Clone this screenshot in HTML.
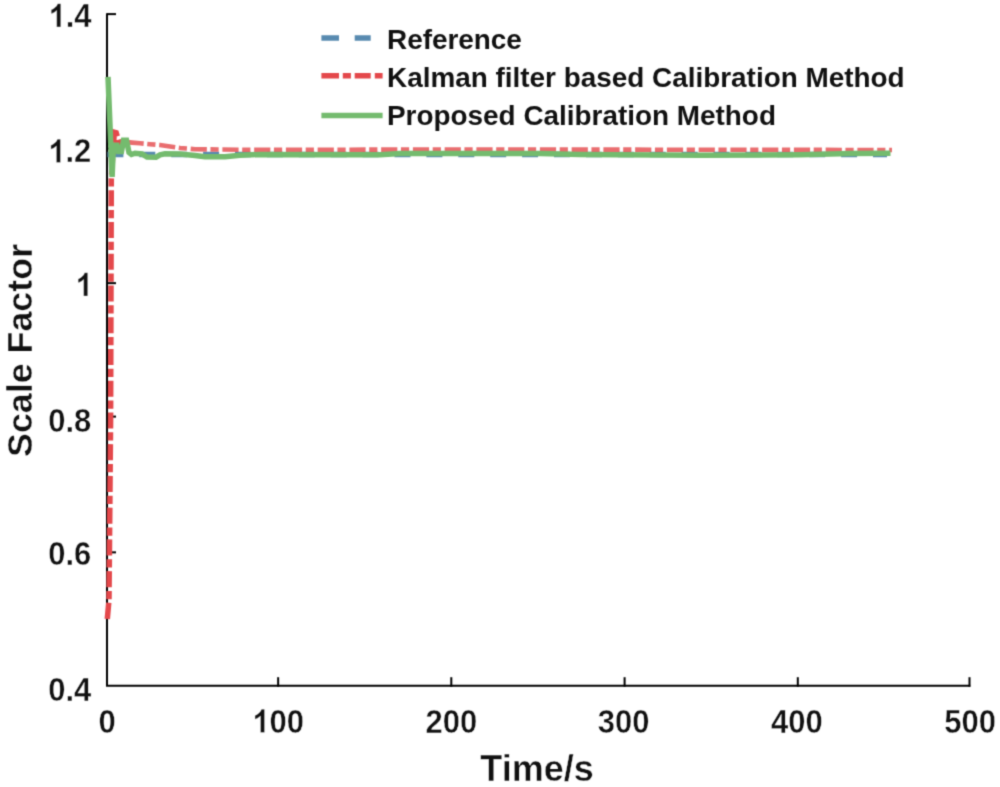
<!DOCTYPE html>
<html><head><meta charset="utf-8"><style>
html,body{margin:0;padding:0;background:#fff;}
body{width:1000px;height:787px;overflow:hidden;}
svg{display:block;}
text{font-family:"Liberation Sans",sans-serif;font-weight:bold;fill:#111;stroke:#fff;stroke-width:0.4px;}
text.lg{stroke:none;}
</style></head><body>
<svg width="1000" height="787" viewBox="0 0 1000 787">
<defs><filter id="bl" x="0" y="0" width="1" height="1" color-interpolation-filters="sRGB"><feConvolveMatrix order="3" kernelMatrix="1 4 1 4 16 4 1 4 1" divisor="36" edgeMode="duplicate"/></filter></defs>
<g filter="url(#bl)">
<rect width="1000" height="787" fill="#fff"/>
<g stroke="#000" stroke-width="2" fill="none">
<line x1="107" y1="14.1" x2="116" y2="14.1"/>
<line x1="107" y1="148.5" x2="116" y2="148.5"/>
<line x1="107" y1="283.15" x2="116" y2="283.15"/>
<line x1="107" y1="416.6" x2="116" y2="416.6"/>
<line x1="107" y1="552.35" x2="116" y2="552.35"/>
<line x1="278.15" y1="686.8" x2="278.15" y2="677.2"/>
<line x1="451.3" y1="686.8" x2="451.3" y2="677.2"/>
<line x1="624.6" y1="686.8" x2="624.6" y2="677.2"/>
<line x1="797.8" y1="686.8" x2="797.8" y2="677.2"/>
<line x1="969.5" y1="686.8" x2="969.5" y2="677.2"/>
<path d="M107,13.2 V686.8 M106,685.8 H970.3"/>
</g>
<polyline points="107.4,154.5 887,154.5" fill="none" stroke="#588ab0" stroke-width="5.5" stroke-dasharray="16 15.9"/>
<polyline points="107.3,619.0 109.0,600.0 110.6,420.0 111.0,283.0 111.3,180.0 113.0,150.0 114.4,132.3 116.2,132.8 118.8,141.5 121.5,143.5" fill="none" stroke="#e4484b" stroke-width="5.5" stroke-dasharray="16.2 3.6 8.2 3.75" stroke-linejoin="miter"/>
<polyline points="121.5,143.5 126.0,142.0 132.0,142.6 140.0,143.3 150.0,144.2 160.0,145.0 170.0,146.6 180.0,148.0 195.0,149.2 250.0,149.8 500.0,149.5 892.0,150.0" fill="none" stroke="#e4484b" stroke-opacity="0.8" stroke-width="4.6" stroke-dasharray="16.2 3.6 8.2 3.75" stroke-dashoffset="25.45" stroke-linejoin="miter"/>
<polyline points="108.0,76.8 112.1,177.0 112.6,165.0 113.5,145.2 117.0,145.2 118.5,151.5 121.5,151.5 123.5,140.3 126.5,140.3 129.0,152.5 131.5,154.5 135.0,153.2 142.0,154.0 147.0,157.0 156.0,157.2 160.0,154.8 165.0,153.8 180.0,154.0 195.0,155.5 205.0,156.8 225.0,156.8 240.0,155.3 260.0,154.5 380.0,154.7 400.0,153.6 540.0,153.6 580.0,154.6 700.0,155.2 800.0,154.8 850.0,153.6 890.5,153.2" fill="none" stroke="#74bb6e" stroke-width="5.5" stroke-linejoin="miter"/>
<g transform="translate(48.51,26.95) scale(1,1.05)"><path transform="translate(0.00,0) scale(0.01514,-0.01514)" d="M810 0L540 0L540 1038C440 945 320 875 178 830L178 1076C254 1101 336 1148 425 1217C513 1286 574 1368 607 1466L810 1466Z" fill="#111" stroke="#fff" stroke-width="26.4"/><text x="17.24" y="0" font-size="31">.</text><text x="25.85" y="0" font-size="31">4</text></g>
<g transform="translate(48.21,162.45) scale(1,1.05)"><path transform="translate(0.00,0) scale(0.01514,-0.01514)" d="M810 0L540 0L540 1038C440 945 320 875 178 830L178 1076C254 1101 336 1148 425 1217C513 1286 574 1368 607 1466L810 1466Z" fill="#111" stroke="#fff" stroke-width="26.4"/><text x="17.24" y="0" font-size="31">.</text><text x="25.85" y="0" font-size="31">2</text></g>
<g transform="translate(75.46,296.00) scale(1,1.05)"><path transform="translate(0.00,0) scale(0.01514,-0.01514)" d="M810 0L540 0L540 1038C440 945 320 875 178 830L178 1076C254 1101 336 1148 425 1217C513 1286 574 1368 607 1466L810 1466Z" fill="#111" stroke="#fff" stroke-width="26.4"/></g>
<g transform="translate(48.21,431.60) scale(1,1.05)"><text x="0.00" y="0" font-size="31">0</text><text x="17.24" y="0" font-size="31">.</text><text x="25.85" y="0" font-size="31">8</text></g>
<g transform="translate(48.21,565.35) scale(1,1.05)"><text x="0.00" y="0" font-size="31">0</text><text x="17.24" y="0" font-size="31">.</text><text x="25.85" y="0" font-size="31">6</text></g>
<g transform="translate(48.21,701.20) scale(1,1.05)"><text x="0.00" y="0" font-size="31">0</text><text x="17.24" y="0" font-size="31">.</text><text x="25.85" y="0" font-size="31">4</text></g>
<g transform="translate(98.38,732.50) scale(1,1.05)"><text x="0.00" y="0" font-size="31">0</text></g>
<g transform="translate(252.29,732.50) scale(1,1.05)"><path transform="translate(0.00,0) scale(0.01514,-0.01514)" d="M810 0L540 0L540 1038C440 945 320 875 178 830L178 1076C254 1101 336 1148 425 1217C513 1286 574 1368 607 1466L810 1466Z" fill="#111" stroke="#fff" stroke-width="26.4"/><text x="17.24" y="0" font-size="31">0</text><text x="34.48" y="0" font-size="31">0</text></g>
<g transform="translate(425.44,732.50) scale(1,1.05)"><text x="0.00" y="0" font-size="31">2</text><text x="17.24" y="0" font-size="31">0</text><text x="34.48" y="0" font-size="31">0</text></g>
<g transform="translate(597.74,732.50) scale(1,1.05)"><text x="0.00" y="0" font-size="31">3</text><text x="17.24" y="0" font-size="31">0</text><text x="34.48" y="0" font-size="31">0</text></g>
<g transform="translate(770.94,732.50) scale(1,1.05)"><text x="0.00" y="0" font-size="31">4</text><text x="17.24" y="0" font-size="31">0</text><text x="34.48" y="0" font-size="31">0</text></g>
<g transform="translate(944.34,732.50) scale(1,1.05)"><text x="0.00" y="0" font-size="31">5</text><text x="17.24" y="0" font-size="31">0</text><text x="34.48" y="0" font-size="31">0</text></g>
<text x="537" y="781" font-size="36" text-anchor="middle">Time/s</text>
<text transform="translate(31.6,350.5) rotate(-90)" font-size="35.8" text-anchor="middle">Scale Factor</text>
<path d="M321.4,37.9H339M354.7,37.9H370.7" stroke="#588ab0" stroke-width="5.5"/>
<path d="M321.4,75.8H339M342.8,75.8H350.9M354.7,75.8H370.7M374.8,75.8H382.6" stroke="#e4484b" stroke-width="5.5"/>
<line x1="321.4" y1="115.5" x2="382.6" y2="115.5" stroke="#74bb6e" stroke-width="5.5"/>
<text class="lg" x="387" y="49.2" font-size="27.9">Reference</text>
<text class="lg" x="387" y="87.1" font-size="27.9">Kalman filter based Calibration Method</text>
<text class="lg" x="387" y="124.7" font-size="27.9">Proposed Calibration Method</text>
</g></svg>
</body></html>
